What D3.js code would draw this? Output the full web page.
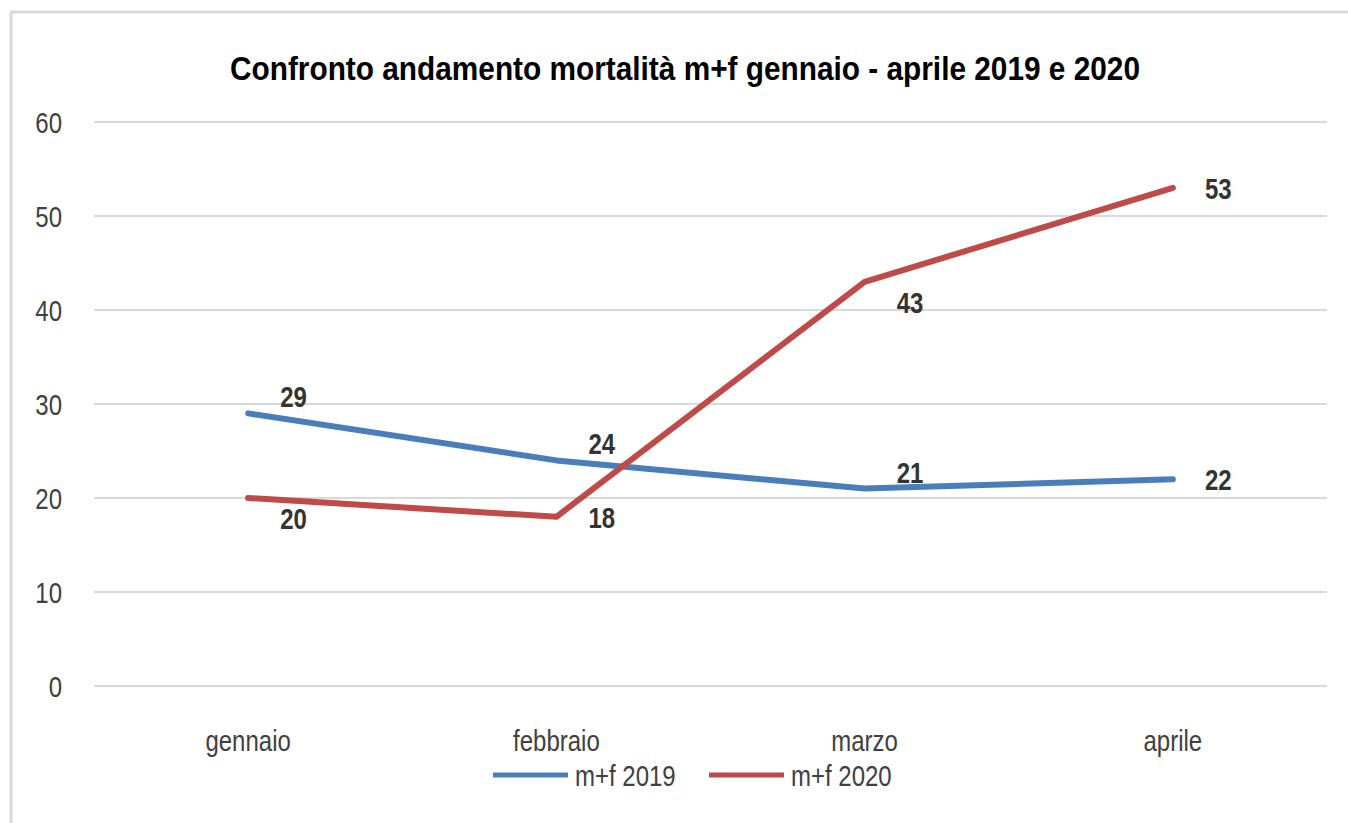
<!DOCTYPE html>
<html>
<head>
<meta charset="utf-8">
<script src="https://d3js.org/d3.v7.min.js"></script>
<style>
  body { margin: 0; background: #fff; }
  text { font-family: "Liberation Sans", Arial, sans-serif; }
</style>
</head>
<body>
<div id="chart"></div>
<script>
var months = ["gennaio", "febbraio", "marzo", "aprile"];
var values2019 = [29, 24, 21, 22];
var values2020 = [20, 18, 43, 53];
var labelPos2019 = ["above", "above", "above", "right"];
var labelPos2020 = ["below", "right", "below", "right"];
var yTicks = [0, 10, 20, 30, 40, 50, 60];
var seriesNames = ["m+f 2019", "m+f 2020"];

function draw_chart(d3) {
    var width = 1348, height = 823;
    var margin = { left: 94, right: 21, top: 122, bottom: 137 };
    var stretch = 1.22; // text in the source is tall and narrow

    var svg = d3.select("#chart").append("svg")
        .attr("width", width)
        .attr("height", height)
        .style("background-color", "white");

    function place(x, y, s) {
        return "translate(" + x + "," + y + ") scale(1," + (s || stretch) + ")";
    }

    // chart frame (only top and left edges are visible in the crop)
    svg.append("line")
        .attr("x1", 10).attr("y1", 12).attr("x2", width).attr("y2", 12)
        .style("stroke", "#d9d9d9").style("stroke-width", 3);
    svg.append("line")
        .attr("x1", 11).attr("y1", 12).attr("x2", 11).attr("y2", height)
        .style("stroke", "#d9d9d9").style("stroke-width", 3);

    var x = d3.scaleBand()
        .domain(months)
        .range([margin.left, width - margin.right])
        .padding(0);

    var y = d3.scaleLinear()
        .domain([0, 60])
        .range([height - margin.bottom, margin.top]);

    var cx = function(d, i) { return x(months[i]) + x.bandwidth() / 2; };

    // gridlines
    svg.append("g")
        .attr("class", "grid")
        .selectAll("line")
        .data(yTicks)
        .enter()
        .append("line")
        .attr("x1", margin.left)
        .attr("x2", width - margin.right)
        .attr("y1", function(d) { return y(d); })
        .attr("y2", function(d) { return y(d); })
        .style("stroke", "#d9d9d9")
        .style("stroke-width", 2);

    // y tick labels
    svg.append("g")
        .attr("class", "y-labels")
        .selectAll("text")
        .data(yTicks)
        .enter()
        .append("text")
        .attr("transform", function(d) { return place(62, y(d) + 11); })
        .style("text-anchor", "end")
        .style("font-size", "24px")
        .style("fill", "#404040")
        .text(function(d) { return d; });

    // x labels
    svg.append("g")
        .attr("class", "x-labels")
        .selectAll("text")
        .data(months)
        .enter()
        .append("text")
        .attr("transform", function(d) { return place(x(d) + x.bandwidth() / 2, 751); })
        .style("text-anchor", "middle")
        .style("font-size", "24px")
        .style("fill", "#404040")
        .text(function(d) { return d; });

    // title
    svg.append("text")
        .attr("transform", place(230, 80, 1.3))
        .attr("textLength", 910)
        .attr("lengthAdjust", "spacingAndGlyphs")
        .style("font-size", "26px")
        .style("font-weight", "bold")
        .style("fill", "#000")
        .text("Confronto andamento mortalità m+f gennaio - aprile 2019 e 2020");

    var line = d3.line()
        .x(cx)
        .y(function(d) { return y(d); });

    var series = [
        { name: seriesNames[0], values: values2019, pos: labelPos2019, color: "#4a7ebb" },
        { name: seriesNames[1], values: values2020, pos: labelPos2020, color: "#be4b48" }
    ];

    series.forEach(function(s) {
        svg.append("path")
            .datum(s.values)
            .attr("d", line)
            .style("fill", "none")
            .style("stroke", s.color)
            .style("stroke-width", 6)
            .style("stroke-linejoin", "round")
            .style("stroke-linecap", "round");
    });

    // data labels
    var offsets = { above: -6, below: 31, right: 11 };
    series.forEach(function(s) {
        svg.append("g")
            .attr("class", "data-labels")
            .selectAll("text")
            .data(s.values)
            .enter()
            .append("text")
            .attr("transform", function(d, i) { return place(cx(d, i) + 32, y(d) + offsets[s.pos[i]]); })
            .style("font-size", "24px")
            .style("font-weight", "bold")
            .style("fill", "#333333")
            .text(function(d) { return d; });
    });

    // legend
    var legend = svg.append("g").attr("class", "legend");
    var legendX = [493, 709];
    series.forEach(function(s, i) {
        legend.append("line")
            .attr("x1", legendX[i]).attr("x2", legendX[i] + 75)
            .attr("y1", 775).attr("y2", 775)
            .style("stroke", s.color)
            .style("stroke-width", 5);
        legend.append("text")
            .attr("transform", place(legendX[i] + 82, 786))
            .style("font-size", "24px")
            .style("fill", "#404040")
            .text(s.name);
    });
}

draw_chart(d3);
</script>
</body>
</html>
